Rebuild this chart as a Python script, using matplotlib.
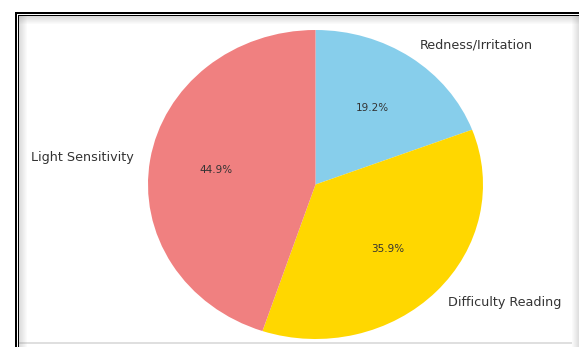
import matplotlib.pyplot as plt
from matplotlib.patches import Rectangle

# data
labels = ['Redness/Irritation', 'Difficulty Reading', 'Light Sensitivity']
counts = [15, 28, 35]
colors = ['skyblue', 'gold', 'lightcoral']

W, H = 579, 347
fig = plt.figure(figsize=(W / 100, H / 100), dpi=100)
fig.patch.set_facecolor('white')


def box(x, y, w, h, color, alpha=1.0):
    # pixel coords from top-left -> figure fraction
    fig.add_artist(Rectangle((x / W, 1 - (y + h) / H), w / W, h / H,
                             transform=fig.transFigure, facecolor=color,
                             edgecolor='none', alpha=alpha))


# screenshot frame (double black line + soft inner shadow)
box(15, 12, W - 15, 1.8, 'black')
box(15, 12, 1.8, H - 12, 'black')
box(17.6, 14.6, W - 17.6, 1.5, 'black')
box(17.6, 14.6, 1.5, H - 14.6, 'black')
for i in range(8):
    a = 0.28 * (1 - i / 8)
    box(19 + i, 16, 1, H - 16, 'gray', a)
    box(19, 16 + i, W - 19, 1, 'gray', a)
for i in range(7):
    a = 0.25 * (i + 1) / 7
    box(572 + i, 16, 1, H - 16, 'gray', a)
box(19, 342, 553, 1.5, 'gray', 0.25)

# pie axes, stretched a bit horizontally like the reference
ax = fig.add_axes([148 / W, (H - 339) / H, 335 / W, 309 / H])
wedges, texts, autotexts = ax.pie(counts, labels=labels, colors=colors,
                                  autopct='%1.1f%%', startangle=90,
                                  counterclock=False, pctdistance=0.6,
                                  labeldistance=1.1,
                                  textprops={'fontsize': 9.2, 'color': '#333333'})
for t in autotexts:
    t.set_fontsize(7.5)
    t.set_color('#333333')
ax.set_aspect('auto')
ax.set_xlim(-1, 1)
ax.set_ylim(-1, 1)

fig.savefig('out.png', dpi=100, facecolor='white')
